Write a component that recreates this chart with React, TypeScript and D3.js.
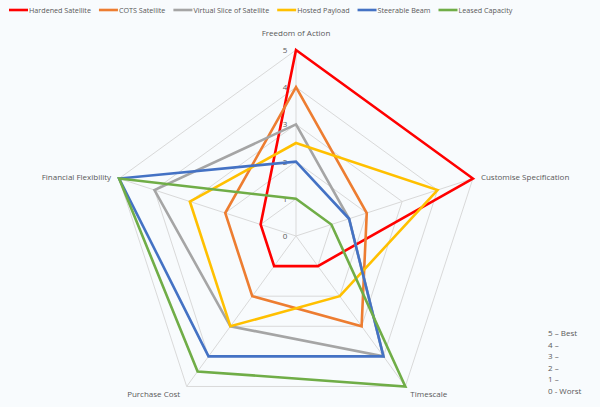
import React from "react";
import * as d3 from "d3";

const axes = ["Freedom of Action", "Customise Specification", "Timescale", "Purchase Cost", "Financial Flexibility"];
const seriesNames = ["Hardened Satellite", "COTS Satellite", "Virtual Slice of Satellite", "Hosted Payload", "Steerable Beam", "Leased Capacity"];
const seriesColors = ["#FF0000", "#ED7D31", "#A5A5A5", "#FFC000", "#4472C4", "#70AD47"];
const hardened = [5, 5, 1, 1, 1];
const cots = [4, 2, 3, 2, 2];
const virtualSlice = [3, 1.5, 4, 3, 4];
const hosted = [2.5, 4, 2, 3, 3];
const steerable = [2, 1.5, 4, 4, 5];
const leased = [1, 1, 5, 4.5, 5];
const seriesValues = [hardened, cots, virtualSlice, hosted, steerable, leased];
const ticks = [0, 1, 2, 3, 4, 5];
const noteLines = ["5 \u2013 Best", "4 \u2013", "3 \u2013", "2 \u2013", "1 \u2013", "0 - Worst"];

const W = 600, H = 407;
const cx = 296, cy = 236, R = 186;
const FONT = "'Open Sans', sans-serif";
const TEXT = "#595959";

function measure(text: string, size: number) {
  const c = document.createElement("canvas").getContext("2d")!;
  c.font = `${size}px 'Open Sans'`;
  return c.measureText(text).width;
}

export default function App() {
  const r = d3.scaleLinear().domain([0, 5]).range([0, R]);
  const ang = (i: number) => (i * 2 * Math.PI) / axes.length;
  const pt = (i: number, v: number) => [cx + r(v) * Math.sin(ang(i)), cy - r(v) * Math.cos(ang(i))];
  const line = d3.lineRadial<number>().angle((_, i) => ang(i)).radius((v) => r(v)).curve(d3.curveLinearClosed);

  const legendSize = 7.2;
  let lx = 9;
  const legend = seriesNames.map((n, i) => {
    const x = lx;
    const w = measure(n, legendSize);
    lx += 19 + 1 + w + 8;
    return { n, x, c: seriesColors[i] };
  });

  const labelPos = [
    { x: cx, y: 36, a: "middle" },
    { x: pt(1, 5)[0] + 8, y: pt(1, 5)[1] + 1, a: "start" },
    { x: pt(2, 5)[0] + 5, y: pt(2, 5)[1] + 11, a: "start" },
    { x: pt(3, 5)[0] - 33, y: pt(3, 5)[1] + 11, a: "middle" },
    { x: pt(4, 5)[0] - 8, y: pt(4, 5)[1] + 1, a: "end" },
  ];

  return (
    <div style={{ position: "fixed", left: 0, top: 0 }}>
      <svg width={W} height={H} style={{ display: "block", background: "#F8FBFD" }} fontFamily={FONT}>
        <rect width={W} height={H} fill="#F8FBFD" />
        <g transform={`translate(${cx},${cy})`}>
          {ticks.slice(1).map((t) => (
            <path key={t} d={line(axes.map(() => t)) || ""} fill="none" stroke="#D9D9D9" strokeWidth={1} />
          ))}
        </g>
        {axes.map((a, i) => {
          const [x, y] = pt(i, 5);
          return <line key={a} x1={cx} y1={cy} x2={x} y2={y} stroke="#D9D9D9" strokeWidth={1} />;
        })}
        {ticks.map((t) => (
          <text key={t} x={cx - 11} y={cy - r(t) + 3} fontSize={8} fill={TEXT} textAnchor="middle">{t}</text>
        ))}
        <g transform={`translate(${cx},${cy})`}>
          {seriesValues.map((vals, i) => (
            <path key={i} d={line(vals) || ""} fill="none" stroke={seriesColors[i]} strokeWidth={2.6} strokeLinejoin="miter" />
          ))}
        </g>
        {axes.map((a, i) => (
          <text key={a} x={labelPos[i].x} y={labelPos[i].y} fontSize={8} fill={TEXT} textAnchor={labelPos[i].a as any}>{a}</text>
        ))}
        {legend.map((l) => (
          <g key={l.n}>
            <line x1={l.x} x2={l.x + 19} y1={10} y2={10} stroke={l.c} strokeWidth={2.6} />
            <text x={l.x + 20} y={12.5} fontSize={legendSize} fill={TEXT}>{l.n}</text>
          </g>
        ))}
        {noteLines.map((t, i) => (
          <text key={t} x={548} y={336 + i * 11.5} fontSize={8} fill={TEXT}>{t}</text>
        ))}
      </svg>
    </div>
  );
}
